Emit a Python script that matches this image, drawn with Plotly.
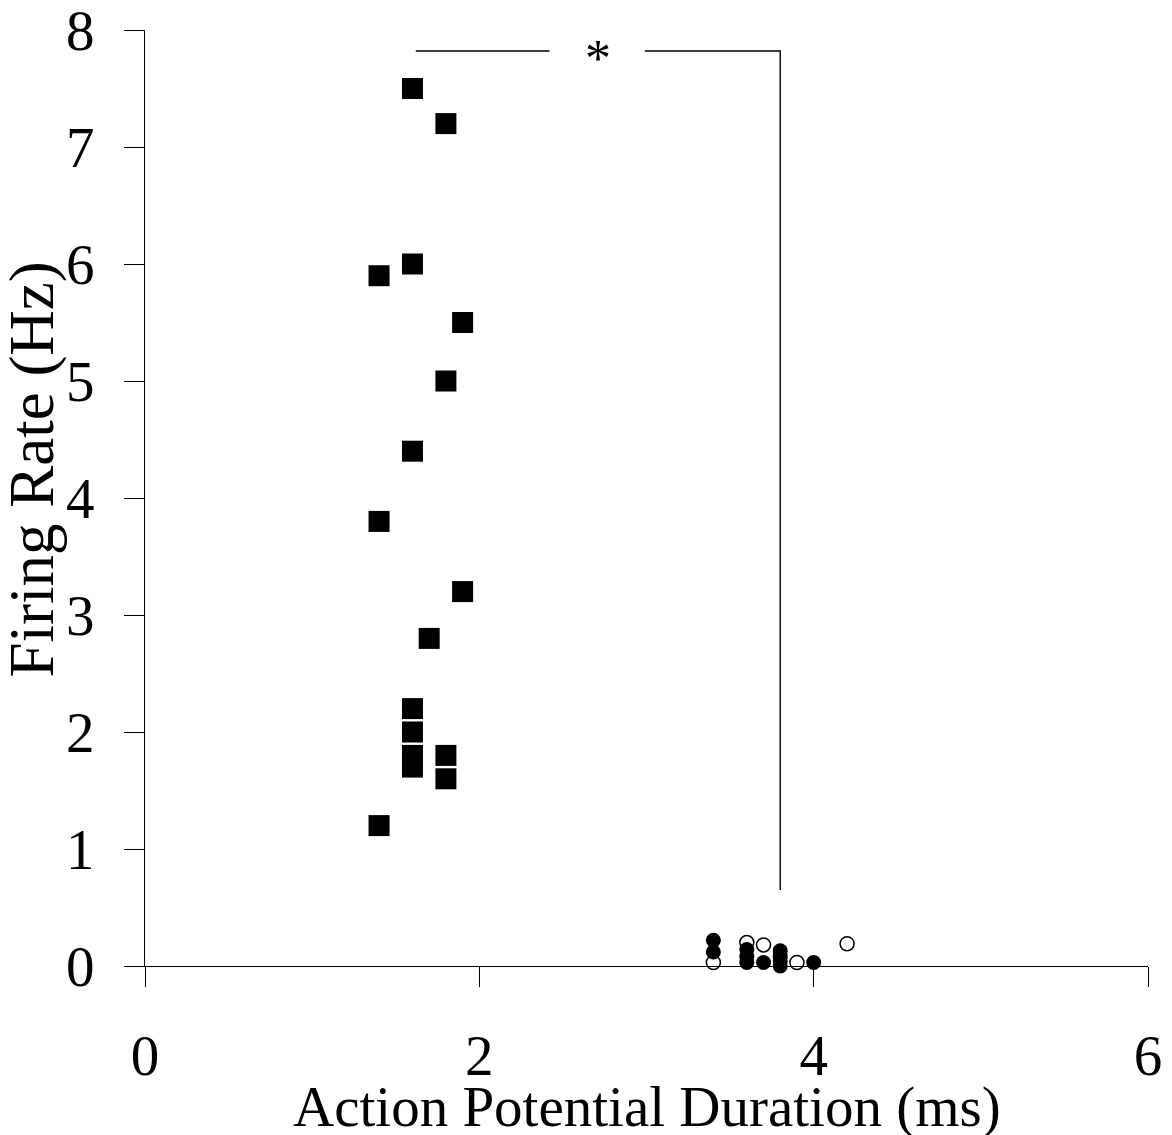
import plotly.graph_objects as go

# Fast-spiking units (filled squares)
sq_x = [1.6, 1.8, 1.4, 1.6, 1.9, 1.8, 1.6, 1.4, 1.9, 1.7, 1.6, 1.6, 1.6, 1.6, 1.8, 1.8, 1.4]
sq_y = [7.5, 7.2, 5.9, 6.0, 5.5, 5.0, 4.4, 3.8, 3.2, 2.8, 2.2, 2.0, 1.8, 1.7, 1.8, 1.6, 1.2]

# Slow units (filled circles)
fc_x = [3.4, 3.4, 3.6, 3.6, 3.6, 3.7, 3.8, 3.8, 3.8, 3.8, 4.0]
fc_y = [0.22, 0.12, 0.14, 0.08, 0.03, 0.03, 0.13, 0.08, 0.04, 0.0, 0.03]

# Slow units (open circles)
oc_x = [3.4, 3.6, 3.7, 3.9, 4.2]
oc_y = [0.03, 0.20, 0.18, 0.03, 0.19]

# Significance bracket
br_left_x = [1.62, 2.42]
br_right_x = [2.99, 3.80, 3.80]
br_y_top = 7.82
br_y_bottom = 0.65
star_x, star_y = 2.71, 7.76

x_ticks = [0, 2, 4, 6]
y_ticks = [0, 1, 2, 3, 4, 5, 6, 7, 8]

FONT = "Liberation Serif"

fig = go.Figure()
fig.add_trace(go.Scatter(x=sq_x, y=sq_y, mode="markers", cliponaxis=False,
                         marker=dict(symbol="square", size=21, color="black", line=dict(width=0))))
fig.add_trace(go.Scatter(x=oc_x, y=oc_y, mode="markers", cliponaxis=False,
                         marker=dict(symbol="circle", size=14, color="white", line=dict(width=1.5, color="black"))))
fig.add_trace(go.Scatter(x=fc_x, y=fc_y, mode="markers", cliponaxis=False,
                         marker=dict(symbol="circle", size=15, color="black", line=dict(width=0))))
fig.add_trace(go.Scatter(x=br_left_x, y=[br_y_top, br_y_top], mode="lines", cliponaxis=False,
                         line=dict(color="black", width=1.4)))
fig.add_trace(go.Scatter(x=br_right_x, y=[br_y_top, br_y_top, br_y_bottom], mode="lines", cliponaxis=False,
                         line=dict(color="black", width=1.4)))

fig.add_annotation(x=star_x, y=star_y, text="*", showarrow=False,
                   font=dict(family=FONT, size=52, color="black"), yanchor="middle")

fig.add_annotation(xref="paper", yref="paper", x=0.5, y=-0.151, text="Action Potential Duration (ms)",
                   showarrow=False, font=dict(family=FONT, size=57, color="black"), yanchor="middle")
fig.add_annotation(xref="paper", yref="paper", x=-0.113, y=0.53, text="Firing Rate (Hz)", textangle=-90,
                   showarrow=False, font=dict(family=FONT, size=63, color="black"), xanchor="center")

fig.update_layout(
    width=1172, height=1135,
    margin=dict(l=145, r=24, t=30, b=169),
    paper_bgcolor="white", plot_bgcolor="white",
    showlegend=False,
    font=dict(family=FONT, color="black"),
)
fig.update_xaxes(range=[0, 6], tickvals=x_ticks, showgrid=False, zeroline=False, automargin=False,
                 showline=True, linecolor="black", linewidth=1, ticklabeloverflow="allow",
                 ticks="outside", ticklen=20, tickcolor="black", tickwidth=1,
                 ticklabelstandoff=20, tickfont=dict(family=FONT, size=57, color="black"))
fig.update_yaxes(range=[0, 8], tickvals=y_ticks, showgrid=False, zeroline=False, automargin=False,
                 showline=True, linecolor="black", linewidth=1, ticklabeloverflow="allow",
                 ticks="outside", ticklen=20, tickcolor="black", tickwidth=1,
                 ticklabelstandoff=18, tickfont=dict(family=FONT, size=57, color="black"))

fig.write_html("out.html")
